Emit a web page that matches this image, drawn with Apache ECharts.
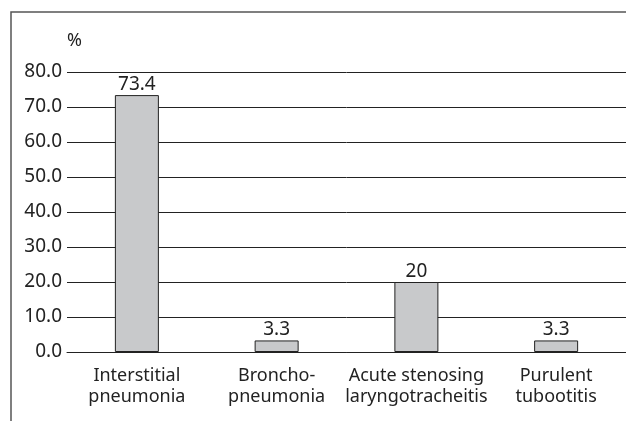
<!DOCTYPE html>
<html>
<head>
<meta charset="utf-8">
<script src="https://cdn.jsdelivr.net/npm/echarts@6/dist/echarts.min.js"></script>
<style>
  html, body { margin: 0; padding: 0; background: #fff; }
  #chart { width: 626px; height: 421px; }
</style>
</head>
<body>
<div id="chart"></div>
<script>
// Distribution of diagnoses (%)
const categories = [
  'Interstitial\npneumonia',
  'Broncho-\npneumonia',
  'Acute stenosing\nlaryngotracheitis',
  'Purulent\ntubootitis'
];
const percentages = [73.4, 3.3, 20, 3.3];
const yTicks = { min: 0, max: 80, interval: 10 };

const FONT = 'Noto Sans';
const INK = '#222';

const chart = echarts.init(document.getElementById('chart'), null, { renderer: 'canvas' });
chart.setOption({
  animation: false,
  textStyle: { fontFamily: FONT },
  graphic: [{
    type: 'rect',
    shape: { x: 11, y: 12, width: 800, height: 600 },
    style: { fill: 'none', stroke: '#555', lineWidth: 1.5 },
    silent: true
  }],
  grid: { left: 67, top: 72, width: 562, height: 280, containLabel: false },
  xAxis: {
    type: 'category',
    data: categories,
    axisLine: { show: true, lineStyle: { color: INK, width: 1 } },
    axisTick: { show: false },
    axisLabel: {
      interval: 0, color: INK, fontSize: 18, lineHeight: 21, margin: 13, fontFamily: FONT
    }
  },
  yAxis: {
    type: 'value',
    min: yTicks.min, max: yTicks.max, interval: yTicks.interval,
    name: '%',
    nameLocation: 'end',
    nameGap: 22,
    nameTextStyle: { color: INK, fontSize: 18, align: 'left', padding: [0, 0, 0, 0], fontFamily: FONT },
    axisLine: { show: false },
    axisTick: { show: false },
    splitLine: { show: true, lineStyle: { color: INK, width: 1 } },
    axisLabel: {
      color: INK, fontSize: 19, margin: 5, fontFamily: FONT,
      formatter: v => v.toFixed(1)
    }
  },
  series: [{
    type: 'bar',
    data: percentages,
    barWidth: 44,
    itemStyle: { color: '#c8c9cb', borderColor: INK, borderWidth: 1 },
    label: { show: true, position: 'top', distance: 1, color: INK, fontSize: 19, fontFamily: FONT }
  }]
});
</script>
</body>
</html>
